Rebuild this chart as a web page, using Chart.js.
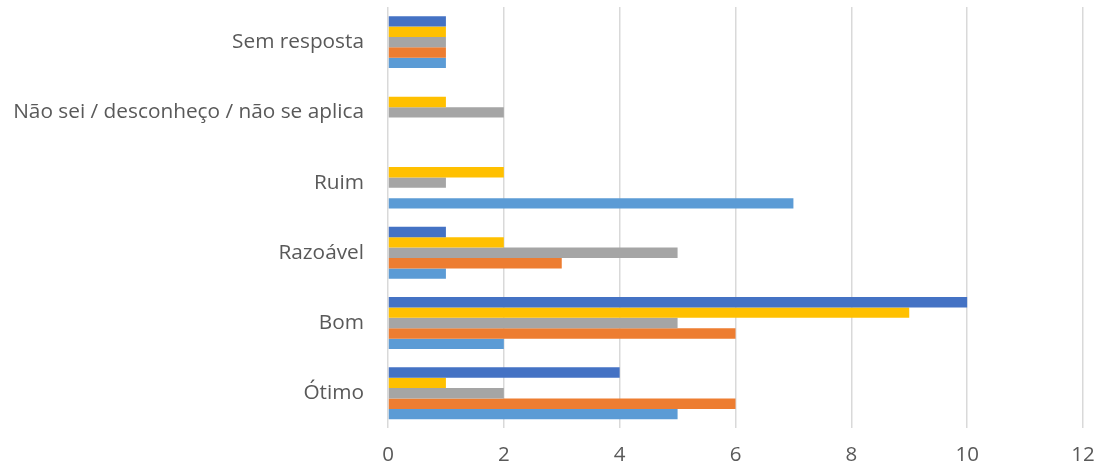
<!DOCTYPE html>
<html>
<head>
<meta charset="utf-8">
<script src="https://cdn.jsdelivr.net/npm/chart.js@4/dist/chart.umd.min.js"></script>
<style>
  html, body { margin: 0; padding: 0; background: #fff; }
  #wrap { width: 1100px; height: 472px; }
</style>
</head>
<body>
<div id="wrap"><canvas id="myChart" width="1100" height="472"></canvas></div>
<script>
// categories top to bottom
var categories = ['Sem resposta', 'Não sei / desconheço / não se aplica', 'Ruim', 'Razoável', 'Bom', 'Ótimo'];
// series listed top of group to bottom of group
var serieA = [1, 0, 0, 1, 10, 4];   // dark blue
var serieB = [1, 1, 2, 2, 9, 1];    // yellow
var serieC = [1, 2, 1, 5, 5, 2];    // gray
var serieD = [1, 0, 0, 3, 6, 6];    // orange
var serieE = [1, 0, 7, 1, 2, 5];    // light blue
var xTicks = [0, 2, 4, 6, 8, 10, 12];

var ctx = document.getElementById('myChart').getContext('2d');
var myChart = new Chart(ctx, {
    type: 'bar',
    data: {
        labels: categories,
        datasets: [
            { label: 'Série 5', data: serieA, backgroundColor: '#4472C4' },
            { label: 'Série 4', data: serieB, backgroundColor: '#FFC000' },
            { label: 'Série 3', data: serieC, backgroundColor: '#A5A5A5' },
            { label: 'Série 2', data: serieD, backgroundColor: '#ED7D31' },
            { label: 'Série 1', data: serieE, backgroundColor: '#5B9BD5' }
        ]
    },
    options: {
        indexAxis: 'y',
        responsive: false,
        animation: false,
        layout: { padding: { top: 7, right: 0, bottom: -9, left: 0 } },
        datasets: {
            bar: { categoryPercentage: 0.74, barPercentage: 1.0, borderWidth: 0 }
        },
        scales: {
            x: {
                min: 0,
                max: 12,
                afterBuildTicks: function (scale) {
                    scale.ticks = xTicks.map(function (v) { return { value: v }; });
                },
                afterFit: function (scale) {
                    scale.paddingLeft = 0;
                    scale.paddingRight = 17;
                },
                grid: { color: '#d9d9d9', lineWidth: 1.5, drawTicks: false },
                border: { display: false },
                ticks: {
                    padding: 14,
                    color: '#595959',
                    font: { family: 'Open Sans', size: 20.5 }
                }
            },
            y: {
                afterFit: function (scale) {
                    scale.width = 388;
                    scale.paddingTop = 0;
                    scale.paddingBottom = 0;
                },
                grid: { display: false, drawTicks: false },
                border: { display: false },
                ticks: {
                    padding: 24,
                    color: '#595959',
                    font: { family: 'Open Sans', size: 20.8 }
                }
            }
        },
        plugins: {
            legend: { display: false },
            tooltip: { enabled: false }
        }
    }
});
</script>
</body>
</html>
